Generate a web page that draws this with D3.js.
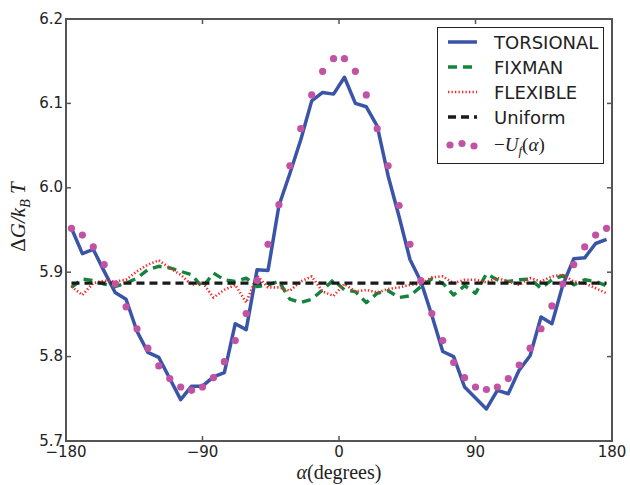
<!DOCTYPE html>
<html>
<head>
<meta charset="utf-8">
<script src="https://cdn.jsdelivr.net/npm/d3@7"></script>
<style>
  body { margin: 0; background: #fff; }
  text { font-family: "DejaVu Sans", sans-serif; }
  .math { font-family: "Liberation Serif", "DejaVu Serif", serif; }
</style>
</head>
<body>
<div class="chart"></div>
<script>
//bin centres (degrees)
var alpha = [-176.4, -169.2, -162, -154.8, -147.6, -140.4, -133.2, -126, -118.8, -111.6,
  -104.4, -97.2, -90, -82.8, -75.6, -68.4, -61.2, -54, -46.8, -39.6,
  -32.4, -25.2, -18, -10.8, -3.6, 3.6, 10.8, 18, 25.2, 32.4,
  39.6, 46.8, 54, 61.2, 68.4, 75.6, 82.8, 90, 97.2, 104.4,
  111.6, 118.8, 126, 133.2, 140.4, 147.6, 154.8, 162, 169.2, 176.4];

var torsional = [5.952, 5.922, 5.927, 5.901, 5.876, 5.868, 5.830, 5.805, 5.799, 5.774,
  5.749, 5.765, 5.765, 5.776, 5.781, 5.839, 5.832, 5.903, 5.902, 5.979,
  6.017, 6.057, 6.103, 6.113, 6.111, 6.131, 6.100, 6.096, 6.073, 6.014,
  5.966, 5.915, 5.889, 5.849, 5.806, 5.800, 5.764, 5.751, 5.738, 5.760,
  5.756, 5.784, 5.801, 5.847, 5.839, 5.885, 5.916, 5.917, 5.934, 5.939];

var fixman = [5.882, 5.892, 5.890, 5.886, 5.883, 5.887, 5.893, 5.903, 5.907, 5.905,
  5.901, 5.897, 5.882, 5.899, 5.891, 5.889, 5.893, 5.883, 5.885, 5.889,
  5.868, 5.864, 5.868, 5.879, 5.891, 5.879, 5.877, 5.864, 5.875, 5.878,
  5.870, 5.872, 5.883, 5.892, 5.887, 5.873, 5.884, 5.875, 5.898, 5.891,
  5.889, 5.891, 5.892, 5.881, 5.891, 5.896, 5.885, 5.891, 5.889, 5.884];

var flexible = [5.883, 5.873, 5.887, 5.890, 5.889, 5.891, 5.901, 5.909, 5.914, 5.905,
  5.897, 5.885, 5.888, 5.870, 5.879, 5.885, 5.864, 5.896, 5.882, 5.882,
  5.878, 5.889, 5.895, 5.877, 5.872, 5.886, 5.877, 5.879, 5.876, 5.880,
  5.882, 5.885, 5.886, 5.894, 5.895, 5.887, 5.891, 5.891, 5.888, 5.893,
  5.889, 5.885, 5.893, 5.889, 5.895, 5.897, 5.889, 5.887, 5.881, 5.875];

var uniform = [5.887, 5.887];
var uniformAlpha = [-176.4, 176.4];

var uf = [5.952, 5.944, 5.930, 5.909, 5.886, 5.859, 5.833, 5.810, 5.789, 5.774,
  5.764, 5.760, 5.764, 5.775, 5.794, 5.819, 5.851, 5.890, 5.933, 5.980,
  6.026, 6.070, 6.110, 6.138, 6.153, 6.153, 6.138, 6.110, 6.070, 6.026,
  5.979, 5.933, 5.890, 5.851, 5.819, 5.793, 5.775, 5.764, 5.761, 5.764,
  5.774, 5.790, 5.810, 5.833, 5.860, 5.886, 5.909, 5.930, 5.944, 5.952];

var xTicks = [-180, -90, 0, 90, 180];
var yTicks = [5.7, 5.8, 5.9, 6.0, 6.1, 6.2];
var legendNames = ['TORSIONAL', 'FIXMAN', 'FLEXIBLE', 'Uniform'];

//svg
var width = 630, height = 485;
var svg = d3.select('.chart')
  .append('svg')
    .attr('width', width)
    .attr('height', height);

var x = d3.scaleLinear().domain([-180, 180]).range([66, 612]);
var y = d3.scaleLinear().domain([5.7, 6.2]).range([441, 19]);

var styles = [
  {color: '#3a55a8', width: 3.5, dash: null},
  {color: '#14843c', width: 3.4, dash: '9,6'},
  {color: '#ff2020', width: 2.6, dash: '1.3,2.2'},
  {color: '#1a1a1a', width: 3.4, dash: '8,5'}
];

//lines
var line = d3.line()
  .x(function(d){ return x(d[0]); })
  .y(function(d){ return y(d[1]); });

var series = [
  d3.zip(alpha, torsional),
  d3.zip(alpha, fixman),
  d3.zip(alpha, flexible),
  d3.zip(uniformAlpha, uniform)
];

svg.selectAll('.series')
  .data(series)
  .enter()
  .append('path')
    .attr('class', 'series')
    .attr('d', line)
    .attr('fill', 'none')
    .attr('stroke', function(d, i){ return styles[i].color; })
    .attr('stroke-width', function(d, i){ return styles[i].width; })
    .attr('stroke-dasharray', function(d, i){ return styles[i].dash; })
    .attr('stroke-linejoin', 'round');

//-Uf dots
svg.selectAll('.uf')
  .data(d3.zip(alpha, uf))
  .enter()
  .append('circle')
    .attr('class', 'uf')
    .attr('cx', function(d){ return x(d[0]); })
    .attr('cy', function(d){ return y(d[1]); })
    .attr('r', 3.6)
    .attr('fill', '#c152a4');

//frame and ticks (ticks point inward on all four sides)
var axisColor = '#555';
svg.append('rect')
  .attr('x', 66).attr('y', 19)
  .attr('width', 546).attr('height', 422)
  .attr('fill', 'none')
  .attr('stroke', axisColor)
  .attr('stroke-width', 2);

var tickLen = 5;
xTicks.forEach(function(t){
  svg.append('line')
    .attr('x1', x(t)).attr('x2', x(t))
    .attr('y1', 441).attr('y2', 441 - tickLen)
    .attr('stroke', axisColor).attr('stroke-width', 1.5);
  svg.append('line')
    .attr('x1', x(t)).attr('x2', x(t))
    .attr('y1', 19).attr('y2', 19 + tickLen)
    .attr('stroke', axisColor).attr('stroke-width', 1.5);
  svg.append('text')
    .attr('x', x(t)).attr('y', 457)
    .attr('text-anchor', 'middle')
    .attr('font-size', 15)
    .attr('fill', '#222')
    .text(t < 0 ? '\u2212' + Math.abs(t) : t);
});

yTicks.forEach(function(t){
  svg.append('line')
    .attr('x1', 66).attr('x2', 66 + tickLen)
    .attr('y1', y(t)).attr('y2', y(t))
    .attr('stroke', axisColor).attr('stroke-width', 1.5);
  svg.append('line')
    .attr('x1', 612).attr('x2', 612 - tickLen)
    .attr('y1', y(t)).attr('y2', y(t))
    .attr('stroke', axisColor).attr('stroke-width', 1.5);
  svg.append('text')
    .attr('x', 63).attr('y', y(t) + 4.5)
    .attr('text-anchor', 'end')
    .attr('font-size', 15)
    .attr('fill', '#222')
    .text(t.toFixed(1));
});

//axis labels
svg.append('text')
  .attr('class', 'math')
  .attr('x', 339).attr('y', 479)
  .attr('text-anchor', 'middle')
  .attr('font-size', 20)
  .attr('fill', '#222')
  .html('<tspan font-style="italic">\u03b1</tspan>(degrees)');

var yl = svg.append('text')
  .attr('class', 'math')
  .attr('transform', 'translate(25,217) rotate(-90)')
  .attr('text-anchor', 'middle')
  .attr('font-size', 21)
  .attr('fill', '#222');
yl.append('tspan').text('\u0394');
yl.append('tspan').attr('font-style', 'italic').text('G/k');
yl.append('tspan').attr('font-style', 'italic').attr('font-size', 14).attr('dy', 5).text('B');
yl.append('tspan').attr('font-style', 'italic').attr('dy', -5).text(' T');

//legend
var legend = svg.append('g');
legend.append('rect')
  .attr('x', 437.5).attr('y', 27.5)
  .attr('width', 166).attr('height', 136)
  .attr('fill', '#fff')
  .attr('stroke', '#222')
  .attr('stroke-width', 1);

var rowY = [42, 67, 92, 117];
legendNames.forEach(function(name, i){
  legend.append('line')
    .attr('x1', 448).attr('x2', 477)
    .attr('y1', rowY[i]).attr('y2', rowY[i])
    .attr('stroke', styles[i].color)
    .attr('stroke-width', styles[i].width)
    .attr('stroke-dasharray', styles[i].dash);
  legend.append('text')
    .attr('x', 494).attr('y', rowY[i] + 6.5)
    .attr('font-size', 18)
    .attr('fill', '#222')
    .text(name);
});

legend.selectAll('.legdot')
  .data([[450, 145], [462, 143.5], [474, 146]])
  .enter()
  .append('circle')
    .attr('cx', function(d){ return d[0]; })
    .attr('cy', function(d){ return d[1]; })
    .attr('r', 3.6)
    .attr('fill', '#c152a4');

var lt = legend.append('text')
  .attr('class', 'math')
  .attr('x', 494).attr('y', 151)
  .attr('font-size', 19)
  .attr('fill', '#222');
lt.append('tspan').text('\u2212');
lt.append('tspan').attr('font-style', 'italic').text('U');
lt.append('tspan').attr('font-style', 'italic').attr('font-size', 13).attr('dy', 4).text('f');
lt.append('tspan').attr('dy', -4).text('(');
lt.append('tspan').attr('font-style', 'italic').text('\u03b1');
lt.append('tspan').text(')');
</script>
</body>
</html>
